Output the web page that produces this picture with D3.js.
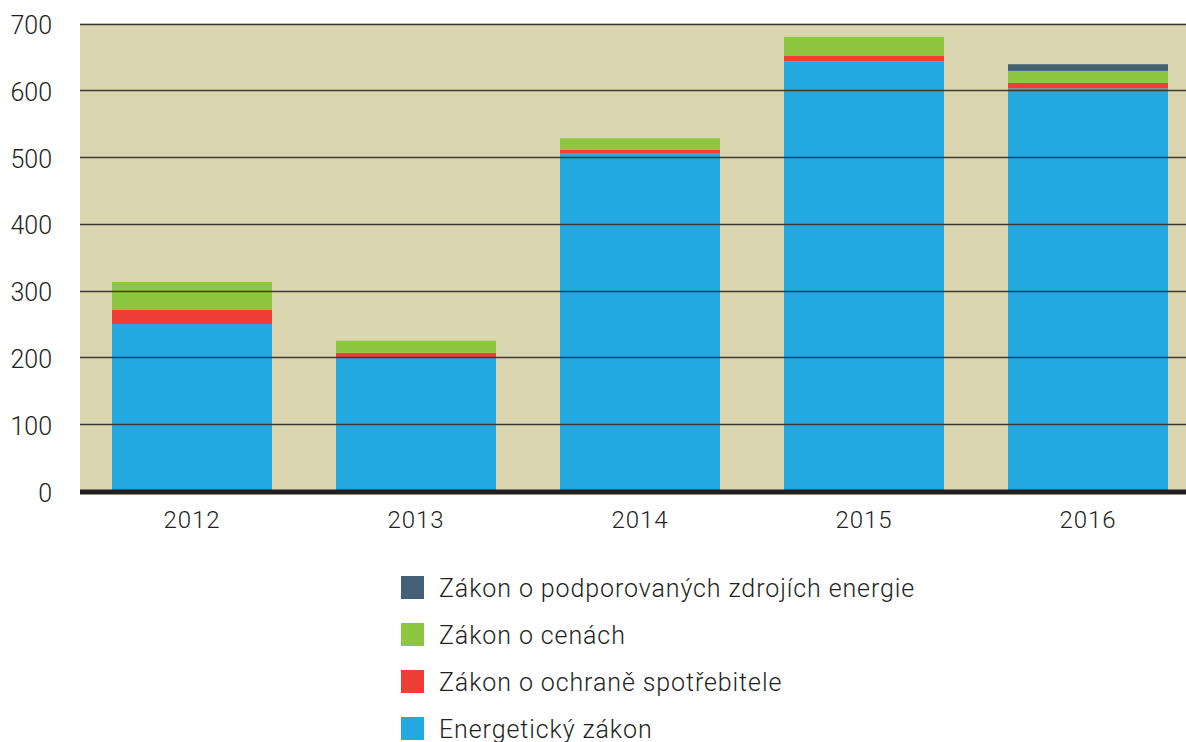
<!DOCTYPE html>
<html>
<head>
<meta charset="utf-8">
<script src="https://cdn.jsdelivr.net/npm/d3@7"></script>
<style>
  body { margin: 0; background: #fff; }
  text { font-family: Roboto, "DejaVu Sans", sans-serif; fill: #231f20; }
</style>
</head>
<body>
<svg id="chart"></svg>
<script>
// data
const years = ["2012", "2013", "2014", "2015", "2016"];
const energeticky = [250, 200, 506, 643, 603];
const ochrana = [21, 7, 5, 9, 8];
const ceny = [42, 18, 17, 28, 18];
const podporovane = [0, 0, 0, 0, 10];
const seriesNames = ["Energetický zákon", "Zákon o ochraně spotřebitele", "Zákon o cenách", "Zákon o podporovaných zdrojích energie"];
const yTicks = [0, 100, 200, 300, 400, 500, 600, 700];

const width = 1186;
const height = 742;
const colors = ["#24a8e0", "#ef3e36", "#8dc63f", "#45617a"];

var svg = d3.select("#chart")
            .attr("width", width)
            .attr("height", height);

var table = years.map(function(y, i) {
    return {year: y, s0: energeticky[i], s1: ochrana[i], s2: ceny[i], s3: podporovane[i]};
});
var keys = ["s0", "s1", "s2", "s3"];
var stacked = d3.stack().keys(keys)(table);

var x = d3.scaleBand()
            .domain(years)
            .range([80, 1200])
            .paddingInner(64 / 224)
            .paddingOuter(32 / 224);

var y = d3.scaleLinear()
            .domain([0, 700])
            .range([491, 23.5]);

// pozadí
svg.append("rect")
    .attr("x", 80)
    .attr("y", y(700))
    .attr("width", width - 80)
    .attr("height", y(0) - y(700))
    .style("fill", "#dad6b0");

// sloupce
svg.selectAll("g.layer")
    .data(stacked)
    .enter().append("g")
    .attr("class", "layer")
    .style("fill", function(d, i) {return colors[i];})
    .selectAll("rect")
    .data(function(d) {return d;})
    .enter().append("rect")
    .attr("x", function(d) {return x(d.data.year);})
    .attr("y", function(d) {return y(d[1]);})
    .attr("width", x.bandwidth())
    .attr("height", function(d) {return y(d[0]) - y(d[1]);});

// mřížka
svg.selectAll("line.grid")
    .data(yTicks.filter(function(t) {return t > 0;}))
    .enter().append("line")
    .attr("class", "grid")
    .attr("x1", 80)
    .attr("x2", width)
    .attr("y1", function(d) {return Math.round(y(d)) + 0.5;})
    .attr("y2", function(d) {return Math.round(y(d)) + 0.5;})
    .style("stroke", "#3c3a32")
    .style("stroke-width", 1.3);

// osa nula
svg.append("line")
    .attr("x1", 80)
    .attr("x2", width)
    .attr("y1", y(0) + 1)
    .attr("y2", y(0) + 1)
    .style("stroke", "#231f20")
    .style("stroke-width", 5);

// popisky osy y
svg.selectAll("text.ytick")
    .data(yTicks)
    .enter().append("text")
    .attr("class", "ytick")
    .text(function(d) {return d;})
    .attr("x", 52)
    .attr("y", function(d) {return y(d) + 2;})
    .attr("text-anchor", "end")
    .attr("dominant-baseline", "central")
    .style("font-size", "25px")
    .style("font-weight", 300);

// popisky osy x
svg.selectAll("text.xtick")
    .data(years)
    .enter().append("text")
    .attr("class", "xtick")
    .text(function(d) {return d;})
    .attr("x", function(d) {return x(d) + x.bandwidth() / 2;})
    .attr("y", 520)
    .attr("text-anchor", "middle")
    .attr("dominant-baseline", "central")
    .style("font-size", "24px")
    .style("letter-spacing", "1px")
    .style("font-weight", 300);

// legenda
var legendOrder = [3, 2, 1, 0];
var legend = svg.selectAll("g.legend")
    .data(legendOrder)
    .enter().append("g")
    .attr("class", "legend")
    .attr("transform", function(d, i) {return "translate(401," + (576 + i * 47) + ")";});

legend.append("rect")
    .attr("width", 23)
    .attr("height", 23)
    .style("fill", function(d) {return colors[d];});

legend.append("text")
    .text(function(d) {return seriesNames[d];})
    .attr("x", 38)
    .attr("y", 12)
    .attr("dominant-baseline", "central")
    .style("font-size", "25px")
    .style("letter-spacing", "0.9px")
    .style("font-weight", 300);
</script>
</body>
</html>
